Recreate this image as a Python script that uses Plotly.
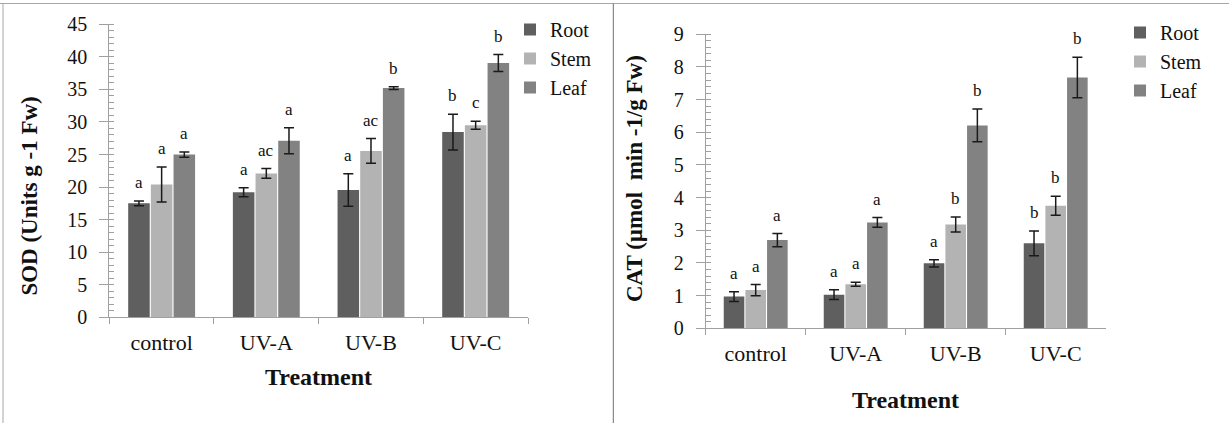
import plotly.graph_objects as go

# ---------------- data ----------------
treatments = ["control", "UV-A", "UV-B", "UV-C"]
organs = ["Root", "Stem", "Leaf"]
colors = ["#5f5f5f", "#b3b3b3", "#828282"]

sod_root = [17.5, 19.2, 19.55, 28.45]
sod_stem = [20.4, 22.1, 25.55, 29.5]
sod_leaf = [25.0, 27.1, 35.2, 39.05]
sod_root_err = [0.35, 0.7, 2.5, 2.75]
sod_stem_err = [2.7, 0.75, 1.9, 0.6]
sod_leaf_err = [0.4, 2.0, 0.2, 1.3]
sod_root_lab = ["a", "a", "a", "b"]
sod_stem_lab = ["a", "ac", "ac", "c"]
sod_leaf_lab = ["a", "a", "b", "b"]

cat_root = [0.97, 1.03, 1.99, 2.60]
cat_stem = [1.17, 1.35, 3.18, 3.75]
cat_leaf = [2.70, 3.24, 6.21, 7.68]
cat_root_err = [0.15, 0.15, 0.11, 0.38]
cat_stem_err = [0.17, 0.06, 0.23, 0.29]
cat_leaf_err = [0.20, 0.15, 0.50, 0.62]
cat_root_lab = ["a", "a", "a", "b"]
cat_stem_lab = ["a", "a", "b", "b"]
cat_leaf_lab = ["a", "a", "b", "b"]

sod_title = "SOD (Units g -1 Fw)"
cat_title = "CAT (µmol  min -1/g Fw)"
x_title = "Treatment"

# ---------------- style ----------------
W, H = 1229, 423
FONT = "Liberation Serif"
AX = "#a0a0a0"
TXT = "#111111"
BARGAP = 0.35
BARGROUPGAP = 0.05

fig = go.Figure()

panels = [
    dict(vals=[sod_root, sod_stem, sod_leaf], errs=[sod_root_err, sod_stem_err, sod_leaf_err],
         labs=[sod_root_lab, sod_stem_lab, sod_leaf_lab], xa="x", ya="y", legend="legend"),
    dict(vals=[cat_root, cat_stem, cat_leaf], errs=[cat_root_err, cat_stem_err, cat_leaf_err],
         labs=[cat_root_lab, cat_stem_lab, cat_leaf_lab], xa="x2", ya="y2", legend="legend2"),
]

annotations = []
for p in panels:
    for j, organ in enumerate(organs):
        fig.add_trace(go.Bar(
            x=treatments, y=p["vals"][j], name=organ,
            marker=dict(color=colors[j], line=dict(width=0)),
            error_y=dict(type="data", array=p["errs"][j], color="#1a1a1a", thickness=1.5, width=5),
            xaxis=p["xa"], yaxis=p["ya"], legend=p["legend"],
        ))
        slot = (1 - BARGAP) / len(organs)
        for i, t in enumerate(treatments):
            annotations.append(dict(
                x=i + (j - 1) * slot, y=p["vals"][j][i] + p["errs"][j][i],
                xref=p["xa"], yref=p["ya"], text=p["labs"][j][i], showarrow=False,
                xanchor="center", yanchor="bottom", yshift=7,
                font=dict(family=FONT, size=17, color=TXT),
            ))

# axis titles
title_font = dict(family=FONT, size=23, color=TXT)
annotations += [
    dict(x=28.6 / W, y=1 - 196 / H, xref="paper", yref="paper", text=f"<b>{sod_title}</b>",
         textangle=-90, showarrow=False, xanchor="center", yanchor="middle", font=title_font),
    dict(x=634 / W, y=1 - 179 / H, xref="paper", yref="paper", text=f"<b>{cat_title}</b>",
         textangle=-90, showarrow=False, xanchor="center", yanchor="middle", font=title_font),
    dict(x=318.7 / W, y=1 - 377 / H, xref="paper", yref="paper", text=f"<b>{x_title}</b>",
         showarrow=False, xanchor="center", yanchor="middle",
         font=dict(family=FONT, size=24, color=TXT)),
    dict(x=905.7 / W, y=1 - 400 / H, xref="paper", yref="paper", text=f"<b>{x_title}</b>",
         showarrow=False, xanchor="center", yanchor="middle",
         font=dict(family=FONT, size=24, color=TXT)),
]

def xaxis(domain, anchor):
    return dict(domain=domain, anchor=anchor, showline=True, linecolor=AX, linewidth=1,
                ticks="outside", tickson="boundaries", ticklen=6, tickcolor=AX, tickwidth=1,
                tickfont=dict(family=FONT, size=22, color=TXT), showgrid=False,
                zeroline=False, ticklabelstandoff=5, automargin=False)

def yaxis(domain, anchor, rng, dtick, minor):
    return dict(domain=domain, anchor=anchor, range=rng, dtick=dtick, showline=True,
                linecolor=AX, linewidth=1, ticks="outside", ticklen=9, tickcolor=AX, tickwidth=1,
                minor=dict(ticks="inside", dtick=minor, ticklen=5, tickcolor=AX, showgrid=False),
                tickfont=dict(family=FONT, size=20, color=TXT), showgrid=False,
                zeroline=False, ticklabelstandoff=8, automargin=False)

legend_style = dict(xanchor="left", yanchor="top", font=dict(family=FONT, size=20, color=TXT),
                    bgcolor="rgba(0,0,0,0)", tracegroupgap=0)

fig.update_layout(
    template="none",
    width=W, height=H, autosize=False,
    font=dict(family=FONT, color=TXT),
    margin=dict(l=0, r=0, t=0, b=0, pad=0),
    paper_bgcolor="white", plot_bgcolor="white",
    barmode="group", bargap=BARGAP, bargroupgap=BARGROUPGAP,
    xaxis=xaxis([109.3 / W, 528 / W], "y"),
    yaxis=yaxis([1 - 317.3 / H, 1 - 24.3 / H], "x", [0, 45], 5, 1),
    xaxis2=xaxis([705.7 / W, 1105.7 / W], "y2"),
    yaxis2=yaxis([1 - 328.3 / H, 1 - 34.3 / H], "x2", [0, 9], 1, 0.2),
    legend=dict(x=510 / W, y=1 - 10 / H, **legend_style),
    legend2=dict(x=1120 / W, y=1 - 13 / H, **legend_style),
    annotations=annotations,
    shapes=[
        dict(type="line", xref="paper", yref="paper", x0=0, x1=1, y0=1 - 3.5 / H, y1=1 - 3.5 / H,
             line=dict(color="#a8a8a8", width=1)),
        dict(type="line", xref="paper", yref="paper", x0=3 / W, x1=3 / W, y0=0, y1=1 - 3.5 / H,
             line=dict(color="#a8a8a8", width=1)),
        dict(type="line", xref="paper", yref="paper", x0=613.3 / W, x1=613.3 / W, y0=0, y1=1 - 3.5 / H,
             line=dict(color="#707070", width=1)),
    ],
    showlegend=True,
)

fig.write_html("out.html")
